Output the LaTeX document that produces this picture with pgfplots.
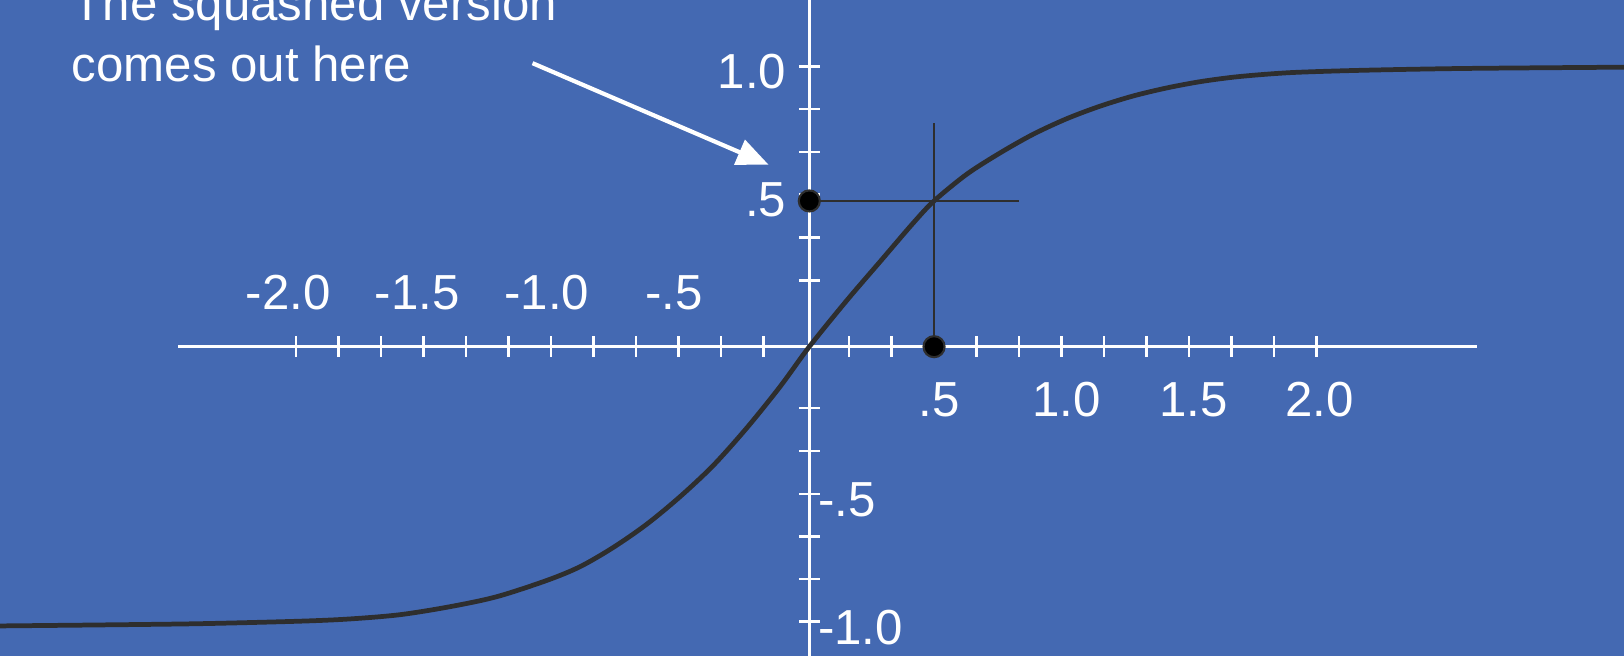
\documentclass[border=0pt]{standalone}
\usepackage{fontspec}
\setmainfont{Liberation Sans}
\usepackage{pgfplots}
\pgfplotsset{compat=1.18}
\usetikzlibrary{arrows.meta}

\definecolor{slideblue}{RGB}{68,105,178}
\definecolor{inkgray}{RGB}{46,46,46}
\tikzset{lbl/.style={font=\fontsize{14}{16}\selectfont, text=white, inner sep=0pt}}

\begin{document}
\begin{tikzpicture}
\path[use as bounding box, clip] (0,0) rectangle (16.24cm,6.56cm);
\begin{axis}[
    at={(0,0)}, anchor=south west,
    scale only axis,
    width=16.24cm, height=6.56cm,
    xmin=-3.2372, xmax=3.2588,
    ymin=-1.2372, ymax=1.3868,
    axis background/.style={fill=slideblue},
    axis lines=middle,
    axis line style={white, line width=0.7pt, -},
    every inner x axis line/.append style={-, draw=none},
    every inner y axis line/.append style={-, white, line width=0.7pt},
    tick align=center,
    major tick length=6pt,
    tick style={white, line width=0.7pt},
    xtick={-2.054,-1.884,-1.714,-1.544,-1.374,-1.204,-1.034,-0.864,-0.694,-0.524,-0.354,-0.184,
           0.159,0.329,0.499,0.669,0.839,1.009,1.179,1.349,1.519,1.689,1.859,2.029},
    ytick={-1.100,-0.930,-0.759,-0.589,-0.417,-0.246,0.265,0.436,0.608,0.779,0.951,1.120},
    xticklabels={}, yticklabels={},
]
% x axis line (shorter than the picture)
\addplot[white, line width=0.7pt] coordinates {(-2.525,0) (2.669,0)};

% squashing curve
\addplot[inkgray, line width=1.35pt, smooth] coordinates {
    (-3.237,-1.117) (-2.837,-1.113) (-2.437,-1.108) (-2.037,-1.098) (-1.837,-1.089)
    (-1.637,-1.072) (-1.437,-1.040) (-1.250,-1.000) (-1.050,-0.935) (-0.917,-0.880)
    (-0.784,-0.803) (-0.650,-0.710) (-0.517,-0.600) (-0.384,-0.475) (-0.250,-0.325)
    (-0.117,-0.160) (0,0) (0.150,0.185) (0.283,0.340) (0.416,0.495) (0.499,0.583)
    (0.630,0.690) (0.763,0.775) (0.896,0.850) (1.030,0.912) (1.163,0.962) (1.296,1.003)
    (1.430,1.035) (1.563,1.060) (1.696,1.078) (1.830,1.090) (1.963,1.098) (2.230,1.106)
    (2.630,1.113) (3.259,1.118)
};

% crosshair at input .5
\addplot[inkgray, line width=0.5pt] coordinates {(0.499,0) (0.499,0.896)};
\addplot[inkgray, line width=0.5pt] coordinates {(0,0.583) (0.840,0.583)};
\addplot[only marks, mark=*, mark size=3pt,
    mark options={fill=black, draw=inkgray, line width=0.6pt}]
    coordinates {(0.499,0) (0,0.583)};

% annotation arrow
\addplot[white, line width=1.2pt, -{Triangle[length=9pt,width=7.5pt]}]
    coordinates {(-1.107,1.134) (-0.163,0.728)};

% tick labels
\node[lbl, anchor=base] at (axis cs:-2.085,0.147) {-2.0};
\node[lbl, anchor=base] at (axis cs:-1.568,0.147) {-1.5};
\node[lbl, anchor=base] at (axis cs:-1.050,0.147) {-1.0};
\node[lbl, anchor=base] at (axis cs:-0.541,0.147) {-.5};
\node[lbl, anchor=base] at (axis cs:0.520,-0.280) {.5};
\node[lbl, anchor=base] at (axis cs:1.030,-0.280) {1.0};
\node[lbl, anchor=base] at (axis cs:1.536,-0.280) {1.5};
\node[lbl, anchor=base] at (axis cs:2.041,-0.280) {2.0};
\node[lbl, anchor=base east] at (axis cs:-0.089,1.034) {1.0};
\node[lbl, anchor=base east] at (axis cs:-0.089,0.520) {.5};
\node[lbl, anchor=base west] at (axis cs:0.032,-0.680) {-.5};
\node[lbl, anchor=base west] at (axis cs:0.032,-1.193) {-1.0};

% annotation text
\node[lbl, anchor=base west] at (axis cs:-2.949,1.304) {The squashed version};
\node[lbl, anchor=base west] at (axis cs:-2.953,1.060) {comes out here};
\end{axis}
\end{tikzpicture}
\end{document}
